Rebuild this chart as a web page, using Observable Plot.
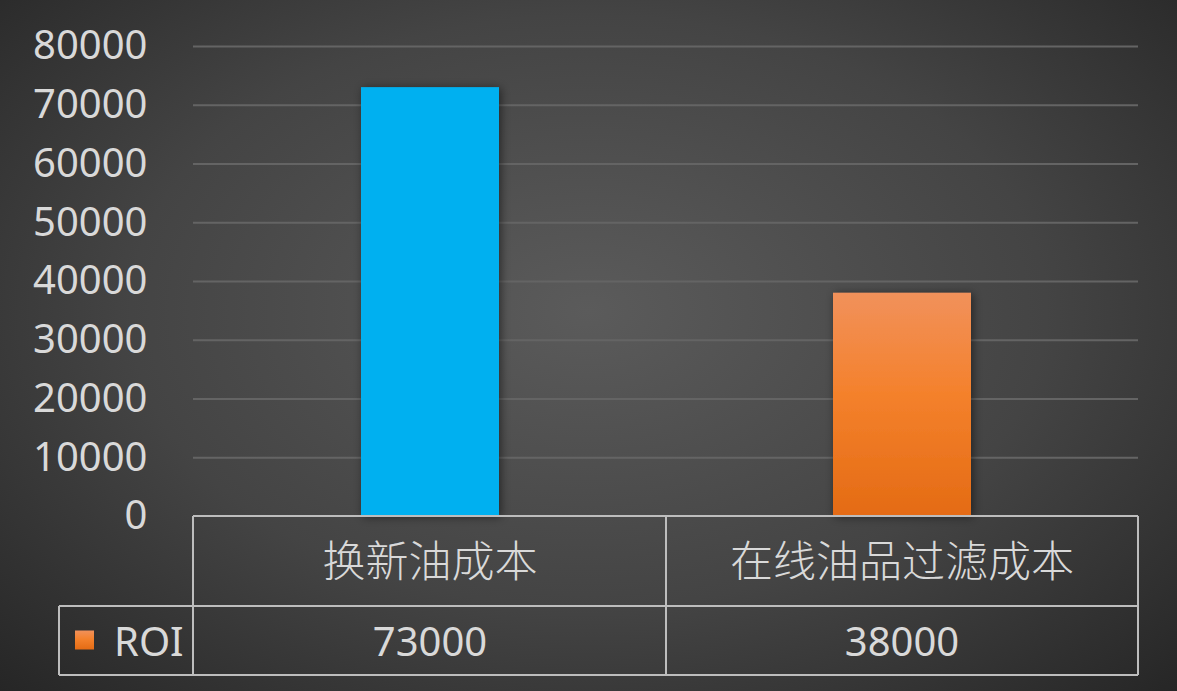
<!DOCTYPE html>
<html>
<head>
<meta charset="utf-8">
<script src="https://cdn.jsdelivr.net/npm/d3@7"></script>
<script src="https://cdn.jsdelivr.net/npm/@observablehq/plot@0.6"></script>
<style>
  html, body { margin: 0; padding: 0; background: #2a2a2a; }
  #chart svg { display: block; }
</style>
</head>
<body>
<div id="chart"></div>
<script>
// ---- data ----
const categories = ["换新油成本", "在线油品过滤成本"];
const roiValues = [73000, 38000];
const seriesName = "ROI";
const yTicks = [0, 10000, 20000, 30000, 40000, 50000, 60000, 70000, 80000];

const data = categories.map((c, i) => ({category: c, value: roiValues[i]}));

// ---- styles ----
const W = 1177, H = 691;
const textColor = "#d9d9d9";
const gridColor = "#646464";
const tableColor = "#bdbdbd";
const barFills = ["#00B0F0", "url(#orangeGrad)"];
const latin = "'Noto Sans', 'Noto Sans CJK SC', sans-serif";
const cjk = "'Noto Sans CJK SC', 'Noto Sans', sans-serif";

const plot = Plot.plot({
  width: W,
  height: H,
  marginLeft: 193,
  marginRight: 39,
  marginTop: 46,
  marginBottom: 175,
  style: {
    background: "radial-gradient(ellipse farthest-corner at 50% 45%, #5b5b5b 0%, #444 55%, #262626 100%)",
    fontFamily: latin,
    color: textColor,
    overflow: "visible"
  },
  x: {domain: categories, paddingInner: 0.708, paddingOuter: 0.354, axis: null},
  y: {domain: [0, 80000], axis: null},
  color: {type: "identity"},
  marks: [
    Plot.gridY(yTicks.filter(t => t > 0), {stroke: gridColor, strokeOpacity: 1, strokeWidth: 2}),
    Plot.axisY(yTicks, {
      tickSize: 0,
      tickPadding: 46,
      fontSize: 40,
      fill: textColor,
      tickFormat: d3.format("d"),
      label: null
    }),
    Plot.barY(data, {
      x: "category",
      y: "value",
      fill: (d) => barFills[categories.indexOf(d.category)]
    })
  ]
});

document.getElementById("chart").appendChild(plot);

const svg = d3.select(plot);
const defs = svg.insert("defs", ":first-child");
const og = defs.append("linearGradient").attr("id", "orangeGrad")
  .attr("x1", 0).attr("y1", 0).attr("x2", 0).attr("y2", 1);
og.append("stop").attr("offset", "0%").attr("stop-color", "#F1915B");
og.append("stop").attr("offset", "45%").attr("stop-color", "#F4812C");
og.append("stop").attr("offset", "100%").attr("stop-color", "#E46B14");
const f = defs.append("filter").attr("id", "barShadow")
  .attr("x", "-20%").attr("y", "-10%").attr("width", "140%").attr("height", "120%");
f.append("feDropShadow").attr("dx", 2).attr("dy", 1).attr("stdDeviation", 5)
  .attr("flood-color", "#000").attr("flood-opacity", 0.5);

svg.selectAll("g[aria-label='bar'] rect").attr("filter", "url(#barShadow)");

// ---- data table under the x axis, positioned from the Plot scales ----
const sx = plot.scale("x");
const sy = plot.scale("y");
const y0 = sy.apply(0);
const row1 = y0 + 90;
const row2 = y0 + 159;
const left = Math.min(...sx.range);
const right = Math.max(...sx.range);
const legendLeft = 59;
const gap = (sx.step - sx.bandwidth) / 2;
const cells = categories.map(c => {
  const a = sx.apply(c) - gap;
  return {c, a, b: a + sx.step, mid: sx.apply(c) + sx.bandwidth / 2};
});

const t = svg.append("g").attr("stroke", tableColor).attr("stroke-width", 2).attr("fill", "none");
t.append("line").attr("x1", left).attr("x2", right).attr("y1", y0).attr("y2", y0);
t.append("line").attr("x1", legendLeft).attr("x2", right).attr("y1", row1).attr("y2", row1);
t.append("line").attr("x1", legendLeft).attr("x2", right).attr("y1", row2).attr("y2", row2);
t.append("line").attr("x1", left).attr("x2", left).attr("y1", y0).attr("y2", row2);
t.append("line").attr("x1", legendLeft).attr("x2", legendLeft).attr("y1", row1).attr("y2", row2);
cells.forEach(cell => {
  t.append("line").attr("x1", cell.b).attr("x2", cell.b).attr("y1", y0).attr("y2", row2);
});

const txt = svg.append("g").attr("fill", textColor).attr("text-anchor", "middle");
cells.forEach((cell, i) => {
  txt.append("text").attr("x", cell.mid).attr("y", (y0 + row1) / 2 + 1)
    .attr("dy", "0.35em").attr("font-size", 43).attr("font-weight", 300)
    .attr("font-family", cjk).text(cell.c);
  txt.append("text").attr("x", cell.mid).attr("y", (row1 + row2) / 2 + 1)
    .attr("dy", "0.35em").attr("font-size", 40).attr("font-family", latin)
    .text(d3.format("d")(roiValues[i]));
});

// legend key in the table
const lg = svg.append("g").attr("text-anchor", "start");
lg.append("rect").attr("x", 75).attr("y", (row1 + row2) / 2 - 10).attr("width", 19).attr("height", 19)
  .attr("fill", "url(#orangeGrad)");
lg.append("text").attr("x", 114).attr("y", (row1 + row2) / 2 + 1).attr("dy", "0.35em")
  .attr("text-anchor", "start")
  .attr("font-size", 40).attr("font-family", latin).attr("fill", textColor).text(seriesName);
</script>
</body>
</html>
